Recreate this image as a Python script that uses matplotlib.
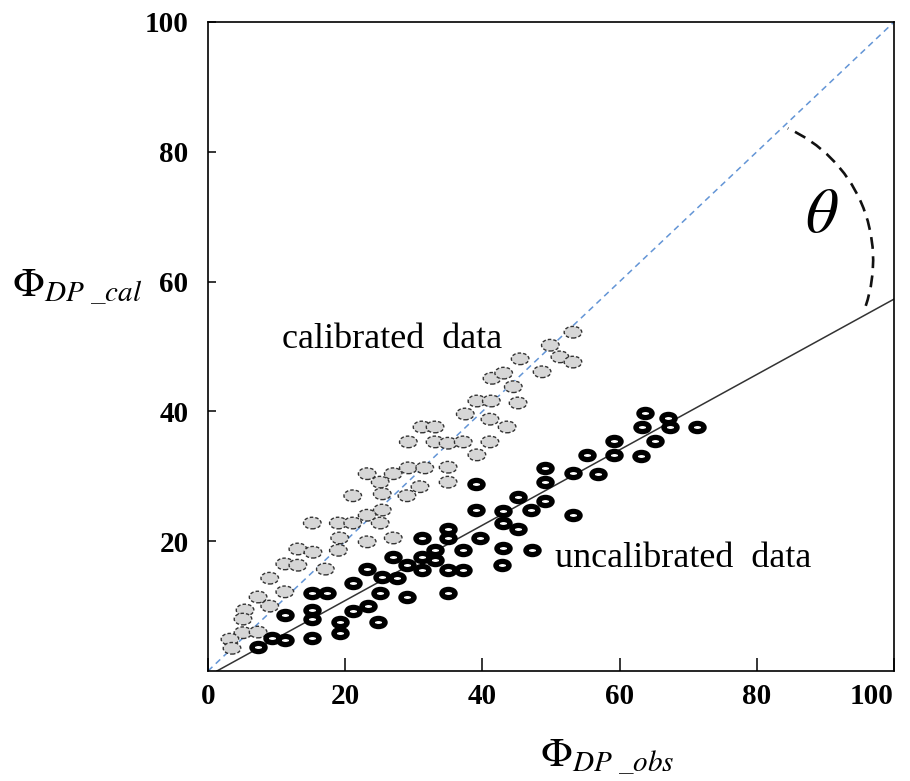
import numpy as np
import matplotlib.pyplot as plt
from matplotlib.path import Path
from matplotlib.patches import Arc
import matplotlib.transforms as mtransforms

plt.rcParams['font.family'] = ['Liberation Serif', 'DejaVu Serif']
plt.rcParams['mathtext.fontset'] = 'stix'

# calibrated data (grey, dashed rings)
cal_x = [53.2, 49.9, 51.3, 53.2, 45.5, 41.4, 43.1, 48.7, 44.5, 39.2, 41.3, 45.2,
         37.5, 41.1, 43.6, 31.2, 33.1, 29.2, 33.1, 35.0, 37.2, 41.1, 39.2, 23.2,
         27.0, 29.2, 31.6, 35.0, 25.1, 35.0, 30.9, 21.1, 25.4, 29.0, 25.4, 23.2,
         15.2, 19.0, 21.1, 25.1, 19.2, 23.2, 27.0, 13.1, 15.3, 19.0, 11.2, 13.1,
         17.1, 9.0, 7.3, 11.2, 9.0, 5.4, 5.1, 5.1, 7.3, 3.2, 3.5]
cal_y = [52.2, 50.2, 48.4, 47.6, 48.1, 45.1, 45.9, 46.1, 43.8, 41.6, 41.6, 41.3,
         39.6, 38.8, 37.6, 37.6, 37.6, 35.3, 35.3, 35.1, 35.3, 35.3, 33.3, 30.4,
         30.4, 31.3, 31.3, 31.4, 29.1, 29.1, 28.4, 27.0, 27.3, 27.0, 24.8, 24.0,
         22.8, 22.8, 22.8, 22.8, 20.5, 19.9, 20.5, 18.8, 18.3, 18.6, 16.5, 16.3,
         15.7, 14.3, 11.4, 12.2, 10.0, 9.4, 8.0, 5.9, 6.0, 4.9, 3.5]

# uncalibrated data (black rings)
uncal_x = [55.2, 49.1, 49.1, 53.2, 56.9, 39.1, 45.2, 49.1, 47.1, 39.1, 43.0, 53.2,
           43.0, 45.2, 35.0, 35.0, 31.2, 39.7, 43.0, 47.2, 37.2, 33.1, 31.2, 33.1,
           27.0, 29.0, 31.2, 35.0, 37.2, 42.9, 23.2, 25.4, 27.6, 21.1, 25.1, 29.0,
           35.0, 15.2, 17.3, 11.2, 15.2, 15.2, 21.1, 23.3, 19.2, 24.8, 19.2, 15.2,
           11.2, 9.3, 7.3, 63.7, 67.1, 63.3, 67.3, 71.3, 65.2, 59.2, 59.2, 63.1]
uncal_y = [33.3, 31.3, 29.1, 30.5, 30.4, 28.8, 26.8, 26.2, 24.8, 24.8, 24.7, 24.0,
           22.8, 21.9, 21.9, 20.5, 20.5, 20.5, 19.0, 18.6, 18.6, 18.6, 17.6, 17.1,
           17.6, 16.3, 15.6, 15.6, 15.6, 16.3, 15.7, 14.5, 14.3, 13.6, 12.0, 11.4,
           12.0, 12.0, 12.0, 8.6, 9.4, 8.0, 9.2, 10.0, 7.6, 7.6, 5.9, 5.1,
           4.8, 5.1, 3.7, 39.8, 39.0, 37.6, 37.6, 37.6, 35.4, 35.4, 33.3, 33.1]

# reference lines
diag_x = [0, 100]
diag_y = [0, 100]
fit_x = [1.3, 100]
fit_y = [0, 57.3]

xticks = [0, 20, 40, 60, 80, 100]
yticks = [20, 40, 60, 80, 100]

# 椭圆形标记
ring_black = Path.unit_circle().transformed(mtransforms.Affine2D().scale(1.0, 0.62))
ring_grey = Path.unit_circle().transformed(mtransforms.Affine2D().scale(1.0, 0.66))

fig = plt.figure(figsize=(9.1, 7.81), dpi=100)
ax = fig.add_axes([208 / 910, 1 - 671 / 781, 686 / 910, 649 / 781])

ax.plot(diag_x, diag_y, color='#6395D6', lw=1.1, ls=(0, (4, 3)), zorder=1)
ax.plot(fit_x, fit_y, color='#333333', lw=1.1, zorder=1)

ax.scatter(cal_x, cal_y, s=160, marker=ring_grey, facecolor='#d6d6d6',
           edgecolor='#333333', linewidths=1.0, linestyle=(0, (2.5, 1.5)), zorder=2)
ax.scatter(uncal_x, uncal_y, s=90, marker=ring_black, facecolor='white',
           edgecolor='black', linewidths=3.8, zorder=3)

# theta 角度弧线
ax.add_patch(Arc((75.9, 63.3), 2 * 21.06, 2 * 22.26, theta1=-19.4, theta2=67,
                 color='#111111', lw=1.9, ls=(0, (4.5, 2.8)), zorder=2))
ax.text(89.4, 70.0, r'$\theta$', fontsize=46, ha='center', va='center')

ax.text(10.8, 49.8, 'calibrated  data', fontsize=26, ha='left', va='baseline')
ax.text(50.6, 16.0, 'uncalibrated  data', fontsize=26, ha='left', va='baseline')

ax.set_xlim(0, 100)
ax.set_ylim(0, 100)
ax.set_xticks(xticks)
ax.set_yticks(yticks)
ax.set_xticklabels([str(t) for t in xticks], fontweight='bold', fontsize=21)
ax.set_yticklabels([str(t) for t in yticks], fontweight='bold', fontsize=21)
ax.get_xticklabels()[-1].set_horizontalalignment('right')
ax.get_xticklabels()[-1].set_x(100.4)
ax.tick_params(axis='x', direction='in', length=9.5, width=1.1, pad=9)
ax.tick_params(axis='y', direction='in', length=6, width=1.1, pad=14)
for sp in ax.spines.values():
    sp.set_linewidth(1.2)

fig.text(540 / 910, 1 - 765 / 781, r'$\Phi_{DP\ \_obs}$', fontsize=30,
         ha='left', va='baseline')
fig.text(12 / 910, 1 - 295 / 781, r'$\Phi_{DP\ \_cal}$', fontsize=30,
         ha='left', va='baseline')

fig.savefig('out.png', dpi=100)
